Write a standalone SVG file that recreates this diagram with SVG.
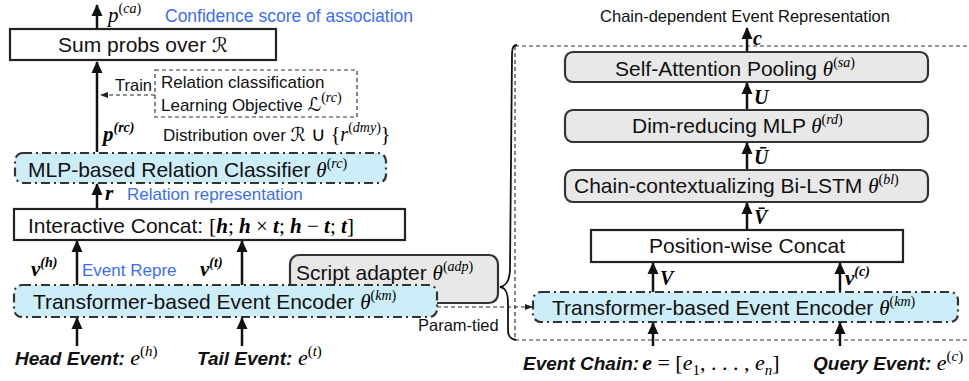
<svg xmlns="http://www.w3.org/2000/svg" width="969" height="381" viewBox="0 0 969 381">
  <defs>
    <marker id="arr" markerUnits="userSpaceOnUse" viewBox="0 0 12 12" refX="11" refY="6" markerWidth="12" markerHeight="12" orient="auto">
      <path d="M0,0.5 L12,6 L0,11.5 z" fill="#111"/>
    </marker>
    <marker id="arrs" markerUnits="userSpaceOnUse" viewBox="0 0 8 8" refX="8" refY="4" markerWidth="8" markerHeight="8" orient="auto">
      <path d="M0,1 L8,4 L0,7 z" fill="#222"/>
    </marker>
    <style>
      .sans { font-family: "Liberation Sans", Arial, sans-serif; fill: #111; }
      .lbl { font-size: 21px; }
      .sm { font-size: 17px; }
      .blue { fill: #3b6ef5; }
      .evt { font-size: 19px; font-weight: bold; font-style: italic; }
      .m { font-family: "Liberation Serif", "Times New Roman", serif; font-style: italic; }
      .mb { font-family: "Liberation Serif", "Times New Roman", serif; font-style: italic; font-weight: bold; }
      .up { font-family: "Liberation Serif", "Times New Roman", serif; font-style: normal; }
      .cal { font-family: "DejaVu Serif", "DejaVu Sans", serif; font-style: italic; }
      .box { fill: #ffffff; stroke: #222; stroke-width: 2.2; }
      .enc { fill: #cdeef9; stroke: #333; stroke-width: 2.2; stroke-dasharray: 9 4 2 4; }
      .gray { fill: #e8e8e8; stroke: #333; stroke-width: 2.2; }
      .dash { fill: none; stroke: #333; stroke-width: 1.2; stroke-dasharray: 4 3; }
      .flow { fill: none; stroke: #111; stroke-width: 2.5; marker-end: url(#arr); }
      .tie { fill: none; stroke: #222; stroke-width: 1.2; stroke-dasharray: 4 3; marker-end: url(#arrs); }
    </style>
  </defs>
  <rect width="969" height="381" fill="#ffffff"/>

  <!-- dashed frame around the chain encoder, with brace -->
  <g id="chain-frame">
    <path class="dash" d="M515,46 H969 M515,46 V340 H969"/>
    <path d="M517,45 C513,45 512,48 512,56 L510,268 C510,280 506,286 500,287 C506,288 508,293 508,303 L508,330 C508,336 510,339 516,340" fill="none" stroke="#111" stroke-width="1.8"/>
  </g>

  <!-- connectors -->
  <g id="connectors">
    <!-- left pipeline -->
    <line class="flow" x1="97" y1="29" x2="97" y2="5"/>
    <line class="flow" x1="97" y1="152" x2="97" y2="62"/>
    <line class="flow" x1="97" y1="209" x2="97" y2="184"/>
    <line class="flow" x1="77" y1="285" x2="77" y2="241"/>
    <line class="flow" x1="242" y1="285" x2="242" y2="241"/>
    <line class="flow" x1="77" y1="346" x2="77" y2="318"/>
    <line class="flow" x1="242" y1="346" x2="242" y2="318"/>
    <line class="tie" x1="155" y1="95" x2="100" y2="95"/>
    <line class="tie" x1="437" y1="307" x2="533" y2="307"/>
    <!-- right pipeline -->
    <line class="flow" x1="747" y1="52" x2="747" y2="28"/>
    <line class="flow" x1="747" y1="110" x2="747" y2="83"/>
    <line class="flow" x1="747" y1="170" x2="747" y2="143"/>
    <line class="flow" x1="747" y1="230" x2="747" y2="203"/>
    <line class="flow" x1="653" y1="292" x2="653" y2="263"/>
    <line class="flow" x1="840" y1="292" x2="840" y2="263"/>
    <line class="flow" x1="653" y1="346" x2="653" y2="323"/>
    <line class="flow" x1="840" y1="346" x2="840" y2="323"/>
  </g>

  <!-- edge labels -->
  <g id="labels">
    <text x="108" y="22"><tspan class="m" font-size="21">p</tspan><tspan class="up" font-size="14" dy="-9">(</tspan><tspan class="m" font-size="14">ca</tspan><tspan class="up" font-size="14">)</tspan></text>
    <text class="sans blue" x="165" y="22" font-size="17.5">Confidence score of association</text>
    <text class="sans" x="115" y="91" font-size="16.5">Train</text>
    <text x="103" y="141"><tspan class="mb" font-size="21">p</tspan><tspan class="mb" font-size="14" dy="-9">(rc)</tspan></text>
    <text x="163" y="141"><tspan class="sans sm">Distribution over </tspan><tspan class="cal" font-size="19">ℛ</tspan><tspan class="up" font-size="20"> ∪ {</tspan><tspan class="m" font-size="20">r</tspan><tspan class="up" font-size="14" dy="-9">(</tspan><tspan class="m" font-size="14">dmy</tspan><tspan class="up" font-size="14">)</tspan><tspan class="up" font-size="20" dy="9">}</tspan></text>
    <text x="105" y="200"><tspan class="mb" font-size="21">r</tspan></text>
    <text class="sans blue sm" x="127" y="200">Relation representation</text>
    <text x="31" y="276"><tspan class="mb" font-size="21">v</tspan><tspan class="mb" font-size="14" dy="-9">(h)</tspan></text>
    <text class="sans blue sm" x="82" y="276">Event Repre</text>
    <text x="200" y="276"><tspan class="mb" font-size="21">v</tspan><tspan class="mb" font-size="14" dy="-9">(t)</tspan></text>
    <text class="sans" x="418" y="331" font-size="16.5">Param-tied</text>
    <text class="sans" x="745" y="22" font-size="16.5" text-anchor="middle">Chain-dependent Event Representation</text>
    <text class="mb" x="753" y="45" font-size="20">c</text>
    <text class="mb" x="754" y="104" font-size="20">U</text>
    <text class="mb" x="754" y="164" font-size="20">Ū</text>
    <text class="mb" x="754" y="224" font-size="20">V̄</text>
    <text class="mb" x="660" y="285" font-size="20">V</text>
    <text x="845" y="285"><tspan class="mb" font-size="21">v</tspan><tspan class="mb" font-size="14" dy="-9">(c)</tspan></text>
  </g>

  <g id="sum-probs">
    <rect class="box" x="10" y="29" width="266" height="31" stroke-width="2.6"/>
    <text x="143" y="52" text-anchor="middle"><tspan class="sans lbl">Sum probs over </tspan><tspan class="cal" font-size="20">ℛ</tspan></text>
  </g>

  <g id="rc-objective">
    <rect class="dash" x="155" y="70" width="202" height="47"/>
    <text class="sans sm" x="161" y="88">Relation classification</text>
    <text x="161" y="111"><tspan class="sans sm">Learning Objective </tspan><tspan class="cal" font-size="19">ℒ</tspan><tspan class="up" font-size="14" dy="-9">(</tspan><tspan class="m" font-size="14">rc</tspan><tspan class="up" font-size="14">)</tspan></text>
  </g>

  <g id="relation-classifier">
    <rect class="enc" x="15" y="153" width="371" height="30" rx="8"/>
    <text x="28" y="177"><tspan class="sans lbl">MLP-based Relation Classifier </tspan><tspan class="m" font-size="21">θ</tspan><tspan class="up" font-size="14" dy="-9">(</tspan><tspan class="m" font-size="14">rc</tspan><tspan class="up" font-size="14">)</tspan></text>
  </g>

  <g id="interactive-concat">
    <rect class="box" x="14" y="209" width="391" height="31"/>
    <text x="28" y="233"><tspan class="sans lbl">Interactive Concat: </tspan><tspan class="up" font-size="22">[</tspan><tspan class="mb" font-size="21">h</tspan><tspan class="up" font-size="21">; </tspan><tspan class="mb" font-size="21">h</tspan><tspan class="up" font-size="21"> × </tspan><tspan class="mb" font-size="21">t</tspan><tspan class="up" font-size="21">; </tspan><tspan class="mb" font-size="21">h</tspan><tspan class="up" font-size="21"> − </tspan><tspan class="mb" font-size="21">t</tspan><tspan class="up" font-size="21">; </tspan><tspan class="mb" font-size="21">t</tspan><tspan class="up" font-size="22">]</tspan></text>
  </g>

  <g id="script-adapter">
    <rect class="gray" x="290" y="255" width="208" height="48" rx="9"/>
    <text x="296" y="280"><tspan class="sans lbl">Script adapter </tspan><tspan class="m" font-size="21">θ</tspan><tspan class="up" font-size="14" dy="-9">(</tspan><tspan class="m" font-size="14">adp</tspan><tspan class="up" font-size="14">)</tspan></text>
  </g>

  <g id="event-encoder-left">
    <rect class="enc" x="14" y="285" width="423" height="32" rx="8"/>
    <text x="33" y="309"><tspan class="sans lbl">Transformer-based Event Encoder </tspan><tspan class="m" font-size="21">θ</tspan><tspan class="up" font-size="14" dy="-9">(</tspan><tspan class="m" font-size="14">km</tspan><tspan class="up" font-size="14">)</tspan></text>
  </g>

  <g id="head-event">
    <text x="15" y="365"><tspan class="sans evt">Head Event:</tspan><tspan class="m" font-size="22"> e</tspan><tspan class="up" font-size="15" dy="-9">(</tspan><tspan class="m" font-size="15">h</tspan><tspan class="up" font-size="15">)</tspan></text>
  </g>
  <g id="tail-event">
    <text x="197" y="365"><tspan class="sans evt">Tail Event:</tspan><tspan class="m" font-size="22"> e</tspan><tspan class="up" font-size="15" dy="-9">(</tspan><tspan class="m" font-size="15">t</tspan><tspan class="up" font-size="15">)</tspan></text>
  </g>

  <g id="self-attention-pooling">
    <rect class="gray" x="565" y="52" width="363" height="30" rx="8"/>
    <text x="615" y="76"><tspan class="sans lbl">Self-Attention Pooling </tspan><tspan class="m" font-size="21">θ</tspan><tspan class="up" font-size="14" dy="-9">(</tspan><tspan class="m" font-size="14">sa</tspan><tspan class="up" font-size="14">)</tspan></text>
  </g>

  <g id="dim-reducing-mlp">
    <rect class="gray" x="565" y="110" width="363" height="32" rx="8"/>
    <text x="632" y="133"><tspan class="sans lbl">Dim-reducing MLP</tspan><tspan class="m" font-size="21"> θ</tspan><tspan class="up" font-size="14" dy="-9">(</tspan><tspan class="m" font-size="14">rd</tspan><tspan class="up" font-size="14">)</tspan></text>
  </g>

  <g id="bi-lstm">
    <rect class="gray" x="565" y="170" width="363" height="32" rx="8"/>
    <text x="574" y="193"><tspan class="sans lbl">Chain-contextualizing Bi-LSTM </tspan><tspan class="m" font-size="21">θ</tspan><tspan class="up" font-size="14" dy="-9">(</tspan><tspan class="m" font-size="14">bl</tspan><tspan class="up" font-size="14">)</tspan></text>
  </g>

  <g id="position-concat">
    <rect class="box" x="591" y="230" width="312" height="32"/>
    <text class="sans lbl" x="747" y="253" text-anchor="middle">Position-wise Concat</text>
  </g>

  <g id="event-encoder-right">
    <rect class="enc" x="533" y="292" width="425" height="30" rx="8"/>
    <text x="552" y="315"><tspan class="sans lbl">Transformer-based Event Encoder </tspan><tspan class="m" font-size="21">θ</tspan><tspan class="up" font-size="14" dy="-9">(</tspan><tspan class="m" font-size="14">km</tspan><tspan class="up" font-size="14">)</tspan></text>
  </g>

  <g id="event-chain">
    <text x="523" y="370"><tspan class="sans evt">Event Chain:</tspan><tspan class="mb" font-size="22" dx="3">e</tspan><tspan class="up" font-size="22"> = [</tspan><tspan class="m" font-size="22">e</tspan><tspan class="up" font-size="15" dy="5">1</tspan><tspan class="up" font-size="22" dy="-5">, . . . , </tspan><tspan class="m" font-size="22">e</tspan><tspan class="m" font-size="15" dy="5">n</tspan><tspan class="up" font-size="22" dy="-5">]</tspan></text>
  </g>
  <g id="query-event">
    <text x="813" y="370"><tspan class="sans evt">Query Event:</tspan><tspan class="m" font-size="22"> e</tspan><tspan class="up" font-size="15" dy="-9">(</tspan><tspan class="m" font-size="15">c</tspan><tspan class="up" font-size="15">)</tspan></text>
  </g>
</svg>
